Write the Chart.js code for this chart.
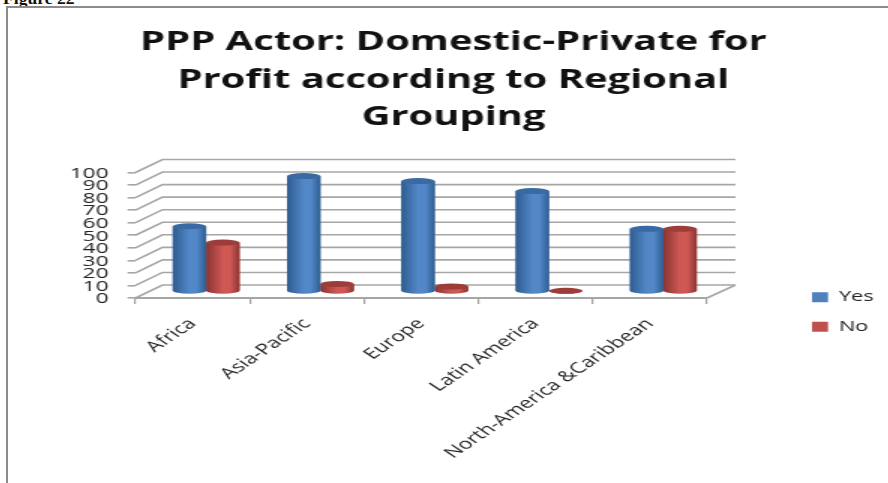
<!DOCTYPE html>
<html><head><meta charset="utf-8">
<style>
html,body{margin:0;padding:0;background:#fff;overflow:hidden}
#page{position:relative;width:888px;height:483px;overflow:hidden}
#fig{position:absolute;left:3px;top:-10px;font:bold 16px "Liberation Serif",serif;color:#111;transform-origin:0 0;transform:scaleX(1.1)}
#frame{position:absolute;left:6px;top:6px;width:900px;height:500px;border:2px solid #8c8c8c;box-sizing:border-box}
canvas{position:absolute;left:13.5px;top:8px;transform-origin:0 0;transform:scaleX(1.5);filter:blur(0.45px)}
</style>
<script src="https://cdn.jsdelivr.net/npm/chart.js@4/dist/chart.umd.min.js"></script>
</head><body>
<div id="page"><div id="fig">Figure 22</div><div id="frame"></div><canvas id="c" width="586" height="475"></canvas></div>
<script>
const categories = ["Africa","Asia-Pacific","Europe","Latin America","North-America &Caribbean"];
const yesValues = [52,92,88,80,50];
const noValues = [39,6,4,0.5,50];
const titleLines = ["PPP Actor: Domestic-Private for","Profit according to Regional","Grouping"];

const DEPTH_X = 18, DEPTH_Y = -13;
const shades = {
  Yes:{edge:"#2f5c90",mid:"#5288c8",cap:"#3a6aa3",solid:"#4f81bd"},
  No:{edge:"#8a3432",mid:"#cf5855",cap:"#9c3d3a",solid:"#c0504d"}
};

const scene = {
  id:"scene",
  beforeLayout(chart){
    const l = chart.legend;
    if(!l._fixed){
      l._fixed = true;
      const fit = l.fit;
      l.fit = function(){ fit.call(this); this.width = 124; };
    }
  },
  afterLayout(chart){
    const l = chart.legend;
    l.left = 517; l.right = 586; l.top = 267; l.bottom = 475;
  },
  beforeDatasetsDraw(chart){
    const {ctx,chartArea:a,scales:{y}} = chart;
    ctx.save();
    ctx.strokeStyle = "#a6a6a6"; ctx.lineWidth = 1.6;
    y.ticks.forEach(t=>{
      const p = y.getPixelForValue(t.value);
      ctx.beginPath();
      ctx.moveTo(a.left,p);
      ctx.lineTo(a.left+DEPTH_X,p+DEPTH_Y);
      ctx.lineTo(a.right+DEPTH_X+1,p+DEPTH_Y);
      ctx.stroke();
    });
    const p0 = y.getPixelForValue(0);
    ctx.beginPath();
    ctx.moveTo(a.right,p0);
    ctx.lineTo(a.right+DEPTH_X+1,p0+DEPTH_Y);
    ctx.stroke();
    ctx.restore();
  },
  beforeDatasetDraw(chart){
    chart.ctx.save();
    chart.ctx.translate(DEPTH_X/2,DEPTH_Y/2);
  },
  afterDatasetDraw(chart,args){
    const ctx = chart.ctx, ds = chart.data.datasets[args.index], s = shades[ds.label];
    args.meta.data.forEach(el=>{
      const L = el.x-el.width/2, R = el.x+el.width/2, rx = el.width/2, ry = 3;
      const g = ctx.createLinearGradient(L,0,R,0);
      g.addColorStop(0,s.edge); g.addColorStop(.5,s.mid); g.addColorStop(.72,s.mid); g.addColorStop(1,s.edge);
      ctx.fillStyle = g;
      ctx.beginPath();
      ctx.ellipse(el.x,el.base,rx,ry,0,0,Math.PI);
      ctx.lineTo(L,el.y); ctx.lineTo(R,el.y); ctx.closePath();
      ctx.fill();
      ctx.fillStyle = s.cap;
      ctx.beginPath();
      ctx.ellipse(el.x,el.y,rx,ry,0,0,Math.PI*2);
      ctx.fill();
    });
    ctx.restore();
  }
};

new Chart(document.getElementById("c"),{
  type:"bar",
  data:{labels:categories,datasets:[
    {label:"Yes",data:yesValues,backgroundColor:shades.Yes.solid,clip:false},
    {label:"No",data:noValues,backgroundColor:shades.No.solid,clip:false}
  ]},
  plugins:[scene],
  options:{
    responsive:false,animation:false,
    categoryPercentage:.585,barPercentage:1,
    layout:{padding:0},
    plugins:{
      tooltip:{enabled:false},
      title:{display:true,text:titleLines,color:"#111",
        font:{family:"Open Sans",size:26.6,weight:"bold",lineHeight:1.41},
        padding:{top:16,bottom:36}},
      legend:{position:"right",align:"start",
        labels:{boxWidth:10.7,boxHeight:10,padding:15,color:"#222",
          font:{family:"Open Sans",size:14.5}}}
    },
    scales:{
      x:{
        afterFit(s){ s.height = 185; },
        grid:{display:true,drawOnChartArea:false,drawTicks:true,tickLength:6,tickColor:"#a0a0a0",lineWidth:1.2,offset:true},
        border:{color:"#a6a6a6",width:2},
        ticks:{minRotation:45,maxRotation:45,autoSkip:false,color:"#222",padding:11,labelOffset:0,
          font:{family:"Open Sans",size:15}}
      },
      y:{
        min:0,max:100,
        afterFit(s){ s.width = 81; },
        grid:{display:true,drawOnChartArea:false,drawTicks:true,tickLength:5.3,tickColor:"#a6a6a6",lineWidth:1.6},
        border:{display:false},
        ticks:{stepSize:10,autoSkip:false,color:"#222",padding:12.7,labelOffset:1,
          font:{family:"Open Sans",size:15}}
      }
    }
  }
});
</script>
</body></html>
